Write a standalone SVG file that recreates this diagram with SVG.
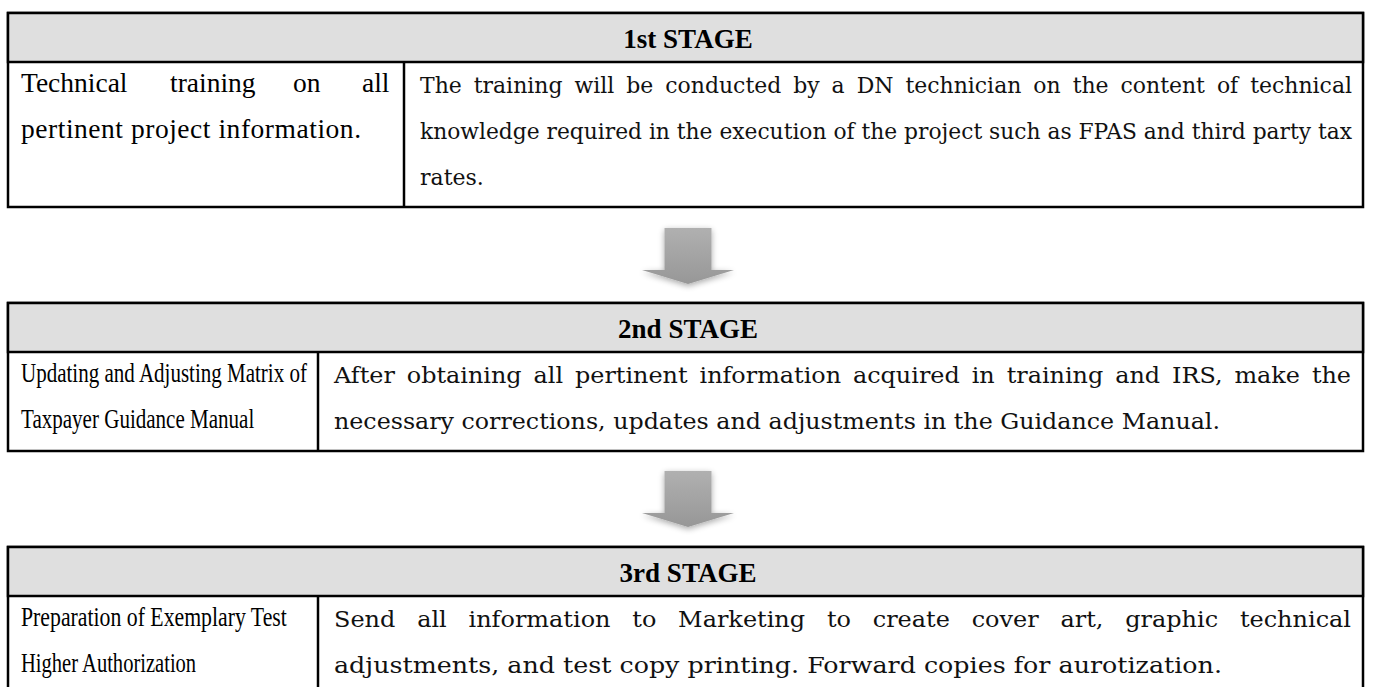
<svg xmlns="http://www.w3.org/2000/svg" width="1375" height="687" viewBox="0 0 1375 687">
<style>
.hdr{fill:#dfdfdf;stroke:#000;stroke-width:2.5}
.box{fill:#fff;stroke:#000;stroke-width:2.5}
.div{stroke:#000;stroke-width:2.5}
.ht{font-family:"Liberation Serif",serif;font-weight:bold;font-size:27px;fill:#000;text-anchor:middle}
.lt{font-family:"Liberation Serif",serif;font-size:27.5px;fill:#000}
.ltc{font-family:"Liberation Serif",serif;font-size:27px;fill:#000}
.rt{font-family:"DejaVu Serif",serif;font-size:22px;fill:#111}
</style>
<defs>
<linearGradient id="ag" x1="0" y1="0" x2="0" y2="1">
<stop offset="0" stop-color="#b0b0b0"/>
<stop offset="1" stop-color="#979797"/>
</linearGradient>
<filter id="sh" x="-30%" y="-30%" width="160%" height="160%">
<feGaussianBlur in="SourceAlpha" stdDeviation="3"/>
<feOffset dy="2"/>
<feComponentTransfer><feFuncA type="linear" slope="0.35"/></feComponentTransfer>
<feMerge><feMergeNode/><feMergeNode in="SourceGraphic"/></feMerge>
</filter>
<path id="arrow" d="M-23.5,0 H23.5 V42 H46 L0,56 L-46,42 H-23.5 Z"/>
</defs>

<g id="stage1">
<rect class="box" x="8" y="13" width="1355" height="194"/>
<rect class="hdr" x="8" y="13" width="1355" height="49"/>
<line class="div" x1="404" y1="62" x2="404" y2="207"/>
<text class="ht" x="688" y="48">1st STAGE</text>
<text class="lt" y="92"><tspan x="21">Technical</tspan><tspan x="170">training</tspan><tspan x="293">on</tspan><tspan x="362">all</tspan></text>
<text class="lt" x="21" y="138" textLength="340" lengthAdjust="spacing">pertinent project information.</text>
<text class="rt" x="420" y="93" word-spacing="5" textLength="932" lengthAdjust="spacingAndGlyphs">The training will be conducted by a DN technician on the content of technical</text>
<text class="rt" x="420" y="139" textLength="932" lengthAdjust="spacingAndGlyphs">knowledge required in the execution of the project such as FPAS and third party tax</text>
<text class="rt" x="420" y="185">rates.</text>
</g>

<g id="connectors">
<use href="#arrow" x="688" y="228" fill="url(#ag)" filter="url(#sh)"/>
<use href="#arrow" x="688" y="471" fill="url(#ag)" filter="url(#sh)"/>
</g>

<g id="stage2">
<rect class="box" x="8" y="303" width="1355" height="148"/>
<rect class="hdr" x="8" y="303" width="1355" height="49"/>
<line class="div" x1="318" y1="352" x2="318" y2="451"/>
<text class="ht" x="688" y="338">2nd STAGE</text>
<text class="ltc" transform="matrix(0.775 0 0 1 21 382)" textLength="369" lengthAdjust="spacingAndGlyphs">Updating and Adjusting Matrix of</text>
<text class="ltc" transform="matrix(0.775 0 0 1 21 428)" textLength="301" lengthAdjust="spacingAndGlyphs">Taxpayer Guidance Manual</text>
<text class="rt" x="334" y="383" word-spacing="4" textLength="1017" lengthAdjust="spacingAndGlyphs">After obtaining all pertinent information acquired in training and IRS, make the</text>
<text class="rt" x="334" y="429" textLength="886" lengthAdjust="spacingAndGlyphs">necessary corrections, updates and adjustments in the Guidance Manual.</text>
</g>

<g id="stage3">
<rect class="box" x="8" y="547" width="1355" height="150"/>
<rect class="hdr" x="8" y="547" width="1355" height="49"/>
<line class="div" x1="318" y1="596" x2="318" y2="697"/>
<text class="ht" x="688" y="582">3rd STAGE</text>
<text class="ltc" transform="matrix(0.775 0 0 1 21 626)" textLength="343" lengthAdjust="spacingAndGlyphs">Preparation of Exemplary Test</text>
<text class="ltc" transform="matrix(0.775 0 0 1 21 672)" textLength="226" lengthAdjust="spacingAndGlyphs">Higher Authorization</text>
<text class="rt" x="334" y="627" word-spacing="13" textLength="1017" lengthAdjust="spacingAndGlyphs">Send all information to Marketing to create cover art, graphic technical</text>
<text class="rt" x="334" y="673" textLength="888" lengthAdjust="spacingAndGlyphs">adjustments, and test copy printing. Forward copies for aurotization.</text>
</g>
</svg>
